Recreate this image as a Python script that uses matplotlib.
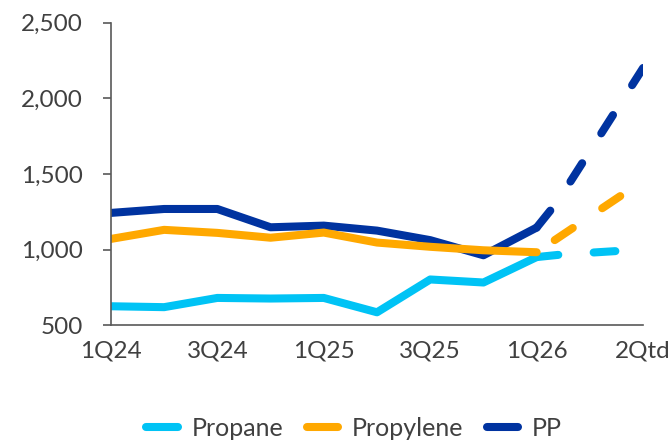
import matplotlib
import matplotlib.pyplot as plt

matplotlib.use('Agg')

# quarter positions: 0 = 1Q24 ... 8 = 1Q26, 10 = 2Qtd
quarters = [0, 1, 2, 3, 4, 5, 6, 7, 8]
tick_pos = [0, 2, 4, 6, 8, 10]
tick_labels = ['1Q24', '3Q24', '1Q25', '3Q25', '1Q26', '2Qtd']

propane = [625, 619, 680, 676, 680, 585, 802, 782, 950]
propylene = [1070, 1130, 1110, 1078, 1112, 1046, 1018, 995, 982]
pp = [1242, 1268, 1268, 1147, 1158, 1125, 1062, 962, 1145]

# outlook (dashed) parts
propane_fx = [8, 8.5, 9.6]
propane_f = [950, 968, 992]
propylene_fx = [8, 9.6]
propylene_f = [982, 1360]
pp_fx = [8, 8.4, 10]
pp_f = [1145, 1320, 2200]

c_propane = '#00C3F5'
c_propylene = '#FFA800'
c_pp = '#0033A0'
txt = '#404040'
lw = 5.8

plt.rcParams['font.family'] = ['Lato', 'DejaVu Sans']

fig = plt.figure(figsize=(6.72, 4.43), dpi=100)
ax = fig.add_axes([0.165, 0.266, 0.792, 0.683])

series = [
    (pp, pp_fx, pp_f, c_pp, 'PP', 0),
    (propane, propane_fx, propane_f, c_propane, 'Propane', 0),
    (propylene, propylene_fx, propylene_f, c_propylene, 'Propylene', 4.4),
]
handles = {}
for vals, fx, fv, col, name, off in series:
    h, = ax.plot(quarters, vals, color=col, lw=lw, solid_capstyle='round',
                 solid_joinstyle='round', label=name)
    ax.plot(fx, fv, color=col, lw=lw, linestyle=(off, (2.7, 4.4)),
            dash_capstyle='round', dash_joinstyle='round')
    handles[name] = h

ax.set_xlim(0, 10)
ax.set_ylim(500, 2500)
ax.set_yticks([500, 1000, 1500, 2000, 2500])
ax.set_yticklabels(['500', '1,000', '1,500', '2,000', '2,500'])
ax.set_xticks(tick_pos)
ax.set_xticklabels(tick_labels)

for s in ['top', 'right']:
    ax.spines[s].set_visible(False)
for s in ['left', 'bottom']:
    ax.spines[s].set_color('#595959')
    ax.spines[s].set_linewidth(1.2)

ax.tick_params(axis='y', length=6, width=1.2, color='#595959', pad=14,
               labelsize=17.5, labelcolor=txt)
ax.tick_params(axis='x', length=0, pad=11, labelsize=17.5, labelcolor=txt)

leg = fig.legend([handles['Propane'], handles['Propylene'], handles['PP']],
                 ['Propane', 'Propylene', 'PP'],
                 loc='center', bbox_to_anchor=(0.527, 0.033), ncol=3,
                 frameon=False, fontsize=18, handlelength=1.25,
                 handletextpad=0.55, columnspacing=0.95)
for t in leg.get_texts():
    t.set_color(txt)

fig.savefig('out.png', dpi=100)
